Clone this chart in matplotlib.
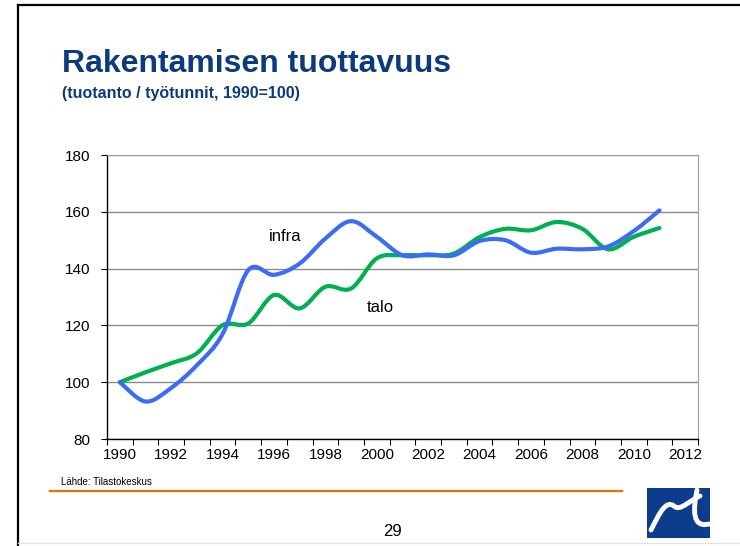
import numpy as np
import matplotlib.pyplot as plt
from matplotlib.path import Path
from matplotlib.patches import PathPatch, Rectangle
from matplotlib.lines import Line2D

plt.rcParams['font.family'] = ['Liberation Sans', 'DejaVu Sans']

# annual index values, 1990 = 100
years = list(range(1990, 2012))
infra = [100, 93.2, 98, 106, 117, 139.5, 137.8, 141.8, 150.6, 156.7, 151.2,
         144.7, 145, 144.7, 149.7, 150, 145.6, 147, 146.8, 147.8, 153.2, 160.5]
talo = [100, 103.5, 106.7, 110.2, 120.1, 120.7, 130.7, 126, 133.6, 133, 143.6,
        144.7, 144.7, 145.3, 151.1, 154.0, 153.5, 156.4, 154.0, 146.8, 151.2, 154.3]

y_ticks = [80, 100, 120, 140, 160, 180]
x_labels = list(range(1990, 2013, 2))

W, H = 740, 546
title_color = '#0b3b7c'


def smooth_path(x, y):
    # Excel-style smoothed line: cubic Bezier through the points
    pts = np.column_stack([np.asarray(x, float), np.asarray(y, float)])
    n = len(pts)
    verts = [pts[0]]
    codes = [Path.MOVETO]
    for i in range(n - 1):
        p0 = pts[i - 1] if i > 0 else pts[i]
        p1 = pts[i]
        p2 = pts[i + 1]
        p3 = pts[i + 2] if i + 2 < n else pts[i + 1]
        verts += [p1 + (p2 - p0) / 6, p2 - (p3 - p1) / 6, p2]
        codes += [Path.CURVE4] * 3
    return Path(verts, codes)


def fx(px):
    return px / W


def fy(py):
    return 1 - py / H


fig = plt.figure(figsize=(7.4, 5.46), dpi=100)
ax = fig.add_axes([fx(107), fy(439), (698 - 107) / W, (439 - 155) / H])

ax.set_xlim(1989.5, 2012.5)
ax.set_ylim(80, 180)

ax.add_patch(PathPatch(smooth_path(years, talo), fill=False, edgecolor='#00b050',
                       lw=3, capstyle='round', joinstyle='round', zorder=3))
ax.add_patch(PathPatch(smooth_path(years, infra), fill=False, edgecolor='#3b6cf6',
                       lw=3, capstyle='round', joinstyle='round', zorder=4))

ax.text(1995.8, 151.4, 'infra', fontsize=12, va='center', ha='left')
ax.text(1999.6, 126.4, 'talo', fontsize=12, va='center', ha='left')

# axes styling
ax.set_yticks(y_ticks)
ax.set_xticks(x_labels)
ax.set_xticks(np.arange(1989.5, 2013, 1), minor=True)
ax.tick_params(axis='x', which='major', length=0, pad=6.5, labelsize=11)
ax.tick_params(axis='x', which='minor', length=4, width=0.8, direction='out')
ax.tick_params(axis='y', length=4, width=0.8, direction='out', pad=8, labelsize=11)
ax.yaxis.grid(True, color='#8c8c8c', lw=1)
ax.set_axisbelow(True)
for side in ['top', 'right']:
    ax.spines[side].set_color('#a0a0a0')
for side in ['left', 'bottom']:
    ax.spines[side].set_color('black')
    ax.spines[side].set_linewidth(1)

# slide decorations
fig.text(fx(62), fy(72), 'Rakentamisen tuottavuus', fontsize=23, fontweight='bold',
         color=title_color, va='baseline')
fig.text(fx(62), fy(98), '(tuotanto / työtunnit, 1990=100)', fontsize=11.5,
         fontweight='bold', color=title_color, va='baseline')
fig.text(fx(61), fy(485), 'Lähde: Tilastokeskus', fontsize=7, va='baseline')
fig.text(fx(393), fy(531), '29', fontsize=12, ha='center', va='center')

fig.add_artist(Line2D([fx(50), fx(622)], [fy(491), fy(491)], color='#f26a0a', lw=1.6))
fig.add_artist(Line2D([fx(18), fx(18)], [fy(5), fy(546)], color='black', lw=1.6))
fig.add_artist(Line2D([fx(18), fx(740)], [fy(5), fy(5)], color='black', lw=1.6))
fig.add_artist(Line2D([fx(18), fx(740)], [fy(543), fy(543)], color='#e2e2e2', lw=1))

# logo
fig.add_artist(Rectangle((fx(647), fy(538)), (710 - 647) / W, 50 / H,
                         facecolor='#0b3d8c', edgecolor='none'))
wave = Path([(fx(651), fy(530)), (fx(660), fy(512)), (fx(666), fy(500)),
             (fx(674), fy(506)), (fx(680), fy(512)), (fx(690), fy(500)),
             (fx(700), fy(496))],
            [Path.MOVETO] + [Path.CURVE4] * 6)
fig.add_artist(PathPatch(wave, fill=False, edgecolor='white', lw=3.5,
                         capstyle='round', transform=fig.transFigure))
stem = Path([(fx(697), fy(490)), (fx(693), fy(510)), (fx(692), fy(528)),
             (fx(709), fy(524))],
            [Path.MOVETO] + [Path.CURVE4] * 3)
fig.add_artist(PathPatch(stem, fill=False, edgecolor='white', lw=3.5,
                         capstyle='round', transform=fig.transFigure))

fig.savefig('out.png', dpi=100)
